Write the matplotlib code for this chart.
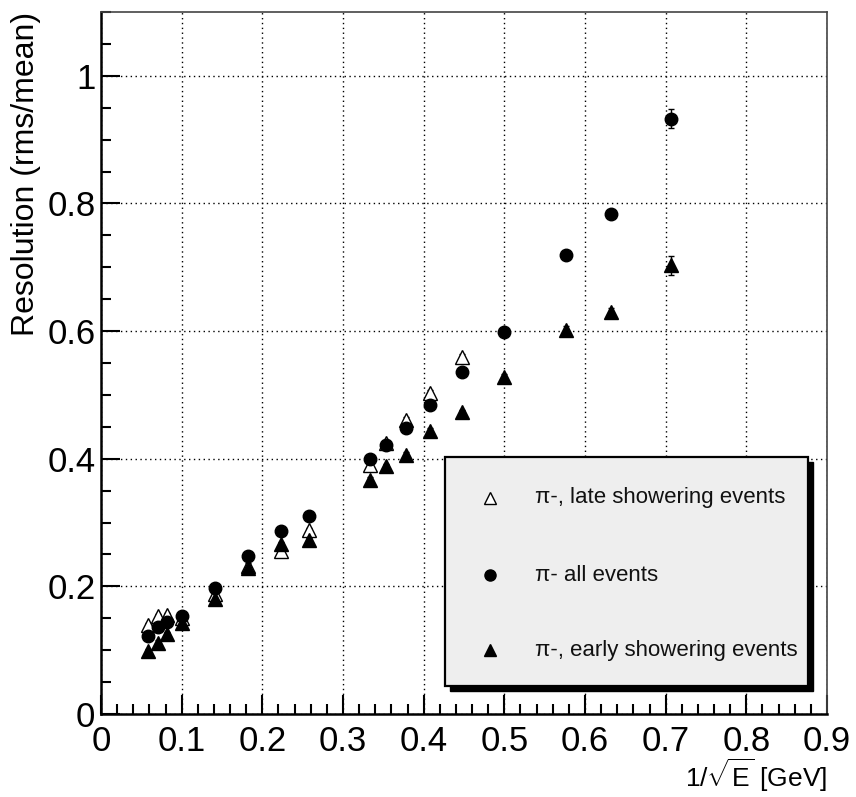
import matplotlib
matplotlib.use("Agg")
import matplotlib.pyplot as plt
from matplotlib.patches import Rectangle
from matplotlib.ticker import MultipleLocator, FuncFormatter

plt.rcParams['font.family'] = ['Liberation Sans', 'DejaVu Sans']
plt.rcParams['mathtext.fontset'] = 'custom'
plt.rcParams['mathtext.rm'] = 'Liberation Sans'
plt.rcParams['mathtext.it'] = 'Liberation Sans:italic'

# 1/sqrt(E) for the beam energies
x_all = [0.0577, 0.0707, 0.0816, 0.1, 0.1414, 0.1826, 0.2236, 0.2582, 0.3333,
         0.3536, 0.378, 0.408, 0.447, 0.5, 0.577, 0.632, 0.707]
y_all = [0.122, 0.136, 0.144, 0.153, 0.198, 0.247, 0.286, 0.311, 0.400,
         0.422, 0.448, 0.484, 0.536, 0.598, 0.720, 0.784, 0.933]
e_all = [0.005, 0.005, 0.005, 0.005, 0.005, 0.005, 0.005, 0.005, 0.005,
         0.005, 0.005, 0.005, 0.005, 0.005, 0.006, 0.006, 0.015]

x_early = x_all
y_early = [0.098, 0.112, 0.125, 0.142, 0.180, 0.229, 0.266, 0.272, 0.367,
           0.388, 0.406, 0.444, 0.473, 0.528, 0.602, 0.630, 0.703]
e_early = [0.004, 0.004, 0.004, 0.004, 0.004, 0.004, 0.004, 0.004, 0.004,
           0.004, 0.004, 0.004, 0.004, 0.005, 0.006, 0.006, 0.015]

x_late = x_all[:13]
y_late = [0.139, 0.153, 0.155, 0.150, 0.188, 0.232, 0.255, 0.288, 0.390,
          0.425, 0.461, 0.503, 0.560]
e_late = [0.004] * 13

xticks = [0, 0.1, 0.2, 0.3, 0.4, 0.5, 0.6, 0.7, 0.8, 0.9]
yticks = [0, 0.2, 0.4, 0.6, 0.8, 1.0]

labels = ['\u03c0-, late showering events', '\u03c0- all events',
          '\u03c0-, early showering events']

fig = plt.figure(figsize=(8.56, 7.97), dpi=100)
ax = fig.add_axes([101/856, 1-714/797, 726/856, 702/797])

ax.errorbar(x_late, y_late, yerr=e_late, fmt='^', ms=10, mfc='white', mec='black',
            mew=1, ecolor='black', elinewidth=1, capsize=2.5, zorder=3)
ax.errorbar(x_early, y_early, yerr=e_early, fmt='^', ms=10, mfc='black', mec='black',
            ecolor='black', elinewidth=1, capsize=2.5, zorder=3)
ax.errorbar(x_all, y_all, yerr=e_all, fmt='o', ms=9, mfc='black', mec='black',
            ecolor='black', elinewidth=1, capsize=2.5, zorder=4)

ax.set_xlim(0, 0.9)
ax.set_ylim(0, 1.1)
ax.set_xticks(xticks)
ax.set_yticks(yticks)
ax.xaxis.set_minor_locator(MultipleLocator(0.02))
ax.yaxis.set_minor_locator(MultipleLocator(0.05))
ax.xaxis.set_major_formatter(FuncFormatter(lambda v, p: '%g' % round(v, 2)))
ax.yaxis.set_major_formatter(FuncFormatter(lambda v, p: '%g' % round(v, 2)))
ax.tick_params(which='both', direction='in', top=False, right=False, width=1.5)
ax.tick_params(which='major', length=14, labelsize=25)
ax.tick_params(which='minor', length=7)
ax.tick_params(axis='x', pad=8)
ax.tick_params(axis='y', pad=4)

ax.grid(True, which='major', color='black', linestyle=(0, (1, 2.5)), linewidth=1)

for s in ['left', 'bottom']:
    ax.spines[s].set_linewidth(1.8)
for s in ['top', 'right']:
    ax.spines[s].set_linewidth(1.2)
    ax.spines[s].set_color('#444444')

ax.set_ylabel('Resolution (rms/mean)', fontsize=23, loc='top')
ax.yaxis.set_label_coords(-0.082, 1.0)
ax.set_xlabel(r'1/$\sqrt{\mathrm{E}}$ [GeV]', fontsize=19, loc='right')
ax.xaxis.set_label_coords(1.0, -0.061)

# legend box with ROOT-like shadow
L, B, W, H = 0.474, 0.040, 0.500, 0.326
ax.add_patch(Rectangle((L + 0.007, B - 0.007), W, H, transform=ax.transAxes,
                       facecolor='black', edgecolor='black', zorder=5))
ax.add_patch(Rectangle((L, B), W, H, transform=ax.transAxes,
                       facecolor='#eeeeee', edgecolor='black', lw=1.6, zorder=6))
row_y = [0.308, 0.198, 0.091]
ax.plot(0.536, row_y[0], '^', ms=9, mfc='white', mec='black', mew=1,
        transform=ax.transAxes, zorder=7)
ax.plot(0.536, row_y[1], 'o', ms=8, color='black', transform=ax.transAxes, zorder=7)
ax.plot(0.536, row_y[2], '^', ms=8, color='black', transform=ax.transAxes, zorder=7)
for yy, t in zip(row_y, labels):
    ax.text(0.598, yy, t, transform=ax.transAxes, fontsize=16, va='center',
            ha='left', color='#111111', zorder=7)

plt.savefig('out.png', dpi=100)
